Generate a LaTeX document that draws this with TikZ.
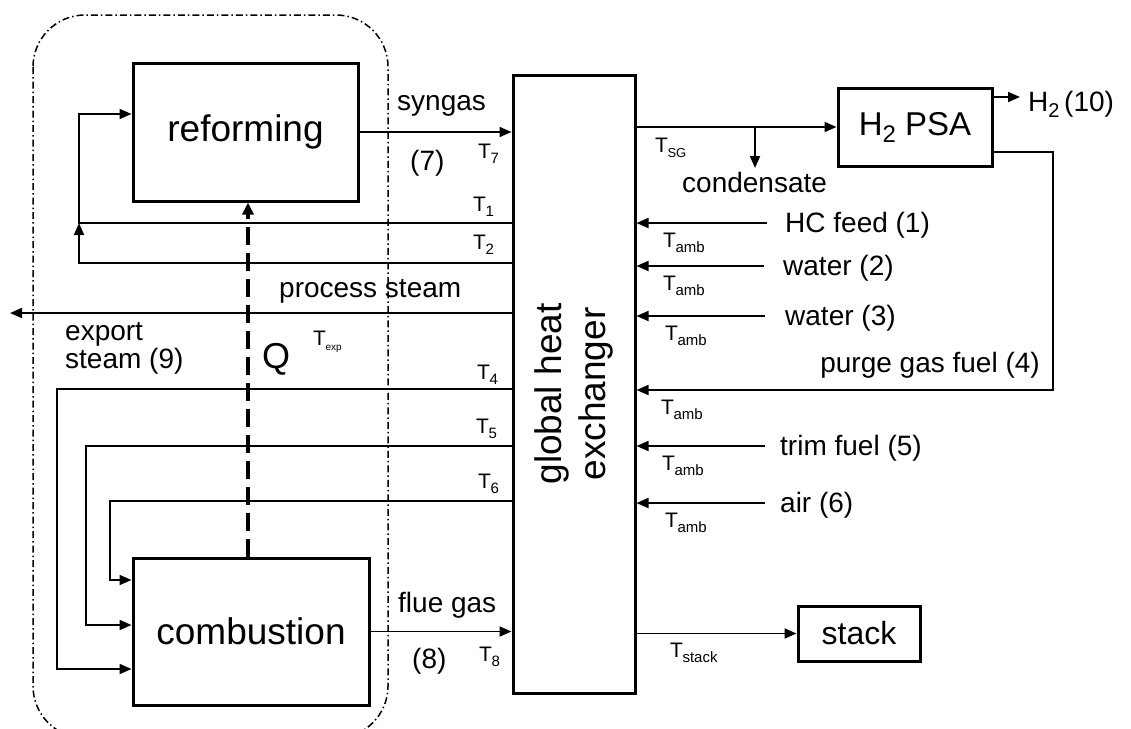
\documentclass[tikz,border=0pt]{standalone}
\usepackage{fontspec}
\setmainfont{Liberation Sans}
\usetikzlibrary{arrows.meta}
\newcommand\Tsb[2][15]{T\kern-0.5pt\raisebox{-5pt}{\fontsize{#1}{#1}\selectfont #2}}
\begin{document}
\begin{tikzpicture}[x=1pt,y=-1pt,
  box/.style={draw,line width=3pt,inner sep=0pt},
  flow/.style={line width=1.8pt,-{Triangle[length=12pt,width=10pt]}},
  big/.style={font=\fontsize{37}{40}\selectfont},
  lab/.style={font=\fontsize{28}{30}\selectfont,inner sep=0pt,anchor=base west},
  tl/.style={font=\fontsize{21}{22}\selectfont,inner sep=0pt,anchor=base west},
  envelope/.style={line width=1.5pt,dash pattern=on 7pt off 3pt on 1.5pt off 3pt},
  heat/.style={line width=4pt,dash pattern=on 18pt off 8pt,-{Triangle[length=12pt,width=11pt]}}
]
\useasboundingbox (0,0) rectangle (1131,728);

% envelope around reforming + combustion
\draw[envelope,rounded corners=52pt] (33,15) rectangle (388,738);

% unit boxes
\node[box,big,minimum width=225pt,minimum height=138pt] (ref) at (245.5,132) {reforming};
\node[box,big,minimum width=236pt,minimum height=147pt] (comb) at (251,631.5) {combustion};
\node[box,minimum width=122pt,minimum height=618pt] (ghx) at (574,384) {};
\node[big,rotate=90,align=center,inner sep=0pt,font=\fontsize{37}{44}\selectfont] (ghxl) at (574,394) {global heat\\exchanger};
\node[box,minimum width=154pt,minimum height=78pt,font=\fontsize{33}{36}\selectfont] (psa) at (915,127) {H\raisebox{-7pt}{\fontsize{24}{24}\selectfont 2} PSA};
\node[box,minimum width=122pt,minimum height=55pt,font=\fontsize{32}{34}\selectfont] (stack) at (859,633.5) {stack};

% junction / free-end coordinates
\coordinate (j1) at (79,223);
\coordinate (exp) at (10,313);
\coordinate (cb) at (755,127);
\coordinate (cond) at (755,168);
\coordinate (h2) at (1020,97);

% left-side streams
\draw[flow] (ref.east) -- (ref.east -| ghx.west);
\draw[flow] (ghx.west |- j1) -- (j1) |- (ref.west |- 0,114);
\draw[flow] (ghx.west |- 0,263) -| (j1);
\draw[flow] (ghx.west |- exp) -- (exp);
\draw[flow] (ghx.west |- 0,389) -| (57,669) -- (comb.west |- 0,669);
\draw[flow] (ghx.west |- 0,446) -| (86,625) -- (comb.west |- 0,625);
\draw[flow] (ghx.west |- 0,501) -| (110,580) -- (comb.west |- 0,580);
\draw[flow] (comb.east) -- (comb.east -| ghx.west);
\draw[heat] (comb.north -| 248,0) -- (ref.south -| 248,0);

% right-side streams
\draw[flow] (ghx.east |- psa.west) -- (psa.west);
\draw[flow] (cb) -- (cond);
\draw[flow] (psa.east |- h2) -- (h2);
\draw[flow] (psa.east |- 0,152) -| (1053,390) -- (ghx.east |- 0,390);
\draw[flow] (767,223) -- (ghx.east |- 0,223);
\draw[flow] (764,266) -- (ghx.east |- 0,266);
\draw[flow] (765,316) -- (ghx.east |- 0,316);
\draw[flow] (765,446) -- (ghx.east |- 0,446);
\draw[flow] (765,503) -- (ghx.east |- 0,503);
\draw[flow] (ghx.east |- stack.west) -- (stack.west);

% stream labels (left)
\node[lab] (lsyn) at (397,110) {syngas};
\node[lab] (l7) at (410,170) {(7)};
\node[tl] (t7) at (478,158) {\Tsb{7}};
\node[tl] (t1) at (473,211) {\Tsb{1}};
\node[tl] (t2) at (473,249) {\Tsb{2}};
\node[lab] (lps) at (279,297) {process steam};
\node[lab] (lex1) at (65,340) {export};
\node[lab] (lex2) at (65,368) {steam (9)};
\node[tl] (texp) at (313,345) {\Tsb[10]{exp}};
\node[lab,font=\fontsize{36}{38}\selectfont] (lq) at (262,368) {Q};
\node[tl] (t4) at (477,379) {\Tsb{4}};
\node[tl] (t5) at (476,433) {\Tsb{5}};
\node[tl] (t6) at (478,488) {\Tsb{6}};
\node[lab] (lfg) at (398,612) {flue gas};
\node[lab] (l8) at (412,668) {(8)};
\node[tl] (t8) at (479,661) {\Tsb{8}};

% stream labels (right)
\node[tl] (tsg) at (655,152) {\Tsb[13]{SG}};
\node[lab] (lcond) at (682,192) {condensate};
\node[lab] (lh2) at (1028,111) {H\raisebox{-6pt}{\fontsize{20}{20}\selectfont 2}\,(10)};
\node[lab] (lhc) at (785,232) {HC feed (1)};
\node[lab] (lw2) at (783,275) {water (2)};
\node[lab] (lw3) at (785,325) {water (3)};
\node[lab,anchor=base east] (lpg) at (1040,372) {purge gas fuel (4)};
\node[lab] (ltf) at (780,455) {trim fuel (5)};
\node[lab] (lair) at (780,512) {air (6)};
\node[tl] (ta1) at (663,247) {\Tsb{amb}};
\node[tl] (ta2) at (663,290) {\Tsb{amb}};
\node[tl] (ta3) at (665,340) {\Tsb{amb}};
\node[tl] (ta4) at (661,414) {\Tsb{amb}};
\node[tl] (ta5) at (662,470) {\Tsb{amb}};
\node[tl] (ta6) at (665,527) {\Tsb{amb}};
\node[tl] (tst) at (670,657) {\Tsb{stack}};
\end{tikzpicture}
\end{document}
